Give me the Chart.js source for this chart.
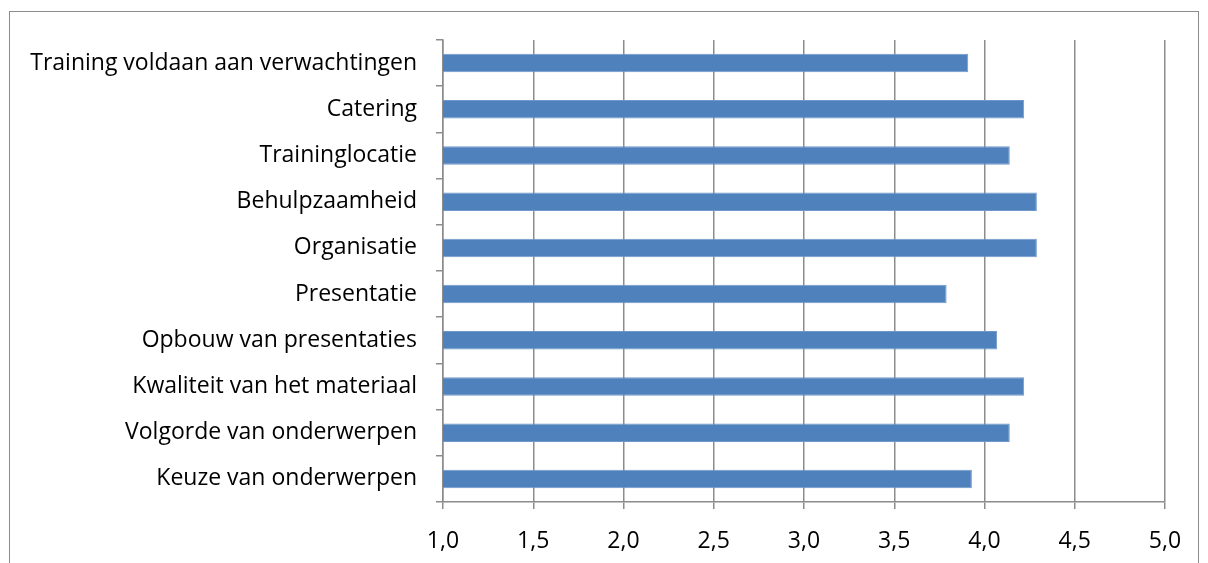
<!DOCTYPE html>
<html>
<head>
<meta charset="utf-8">
<script src="https://cdn.jsdelivr.net/npm/chart.js@4"></script>
<style>
  html, body { margin: 0; padding: 0; background: #fff; overflow: hidden; }
  #frame { position: absolute; left: 9px; top: 11px; width: 1190px; height: 600px; border: 1px solid #8c8c8c; box-sizing: border-box; }
  #scoreChart { position: absolute; left: 0; top: 0; }
</style>
</head>
<body>
<div id="frame"></div>
<canvas id="scoreChart" width="1208" height="563"></canvas>
<script>
const categories = [
  'Training voldaan aan verwachtingen',
  'Catering',
  'Traininglocatie',
  'Behulpzaamheid',
  'Organisatie',
  'Presentatie',
  'Opbouw van presentaties',
  'Kwaliteit van het materiaal',
  'Volgorde van onderwerpen',
  'Keuze van onderwerpen'
];
const scores = [3.91, 4.22, 4.14, 4.29, 4.29, 3.79, 4.07, 4.22, 4.14, 3.93];
const axisMin = 1.0;
const axisMax = 5.0;
const axisStep = 0.5;

const gridColor = '#8c8c8c';
const labelFont = { family: "'Open Sans', 'Noto Sans', sans-serif", size: 23 };

const ctx = document.getElementById('scoreChart').getContext('2d');
new Chart(ctx, {
  type: 'bar',
  data: {
    labels: categories,
    datasets: [{
      data: scores,
      backgroundColor: '#4f81bd',
      borderColor: '#6f98ca',
      borderWidth: 1,
      barPercentage: 0.8,
      categoryPercentage: 0.5
    }]
  },
  options: {
    indexAxis: 'y',
    responsive: false,
    animation: false,
    devicePixelRatio: 1,
    layout: { padding: { top: 40, right: 43, left: 0, bottom: 0 } },
    plugins: { legend: { display: false }, tooltip: { enabled: false } },
    scales: {
      x: {
        min: axisMin, max: axisMax,
        ticks: {
          stepSize: axisStep, color: '#000', font: labelFont, padding: 19,
          maxRotation: 0,
          callback: (v) => Number(v).toFixed(1).replace('.', ',')
        },
        grid: { color: gridColor, lineWidth: 1.5, tickLength: 7 },
        border: { color: gridColor, width: 1.5 },
        afterFit: (scale) => { scale.height = 61; }
      },
      y: {
        ticks: { color: '#000', font: labelFont, padding: 19, autoSkip: false },
        grid: { drawOnChartArea: false, color: gridColor, lineWidth: 1.5, tickLength: 7 },
        border: { color: gridColor, width: 1.5 },
        afterFit: (scale) => { scale.width = 443; }
      }
    }
  }
});
</script>
</body>
</html>
